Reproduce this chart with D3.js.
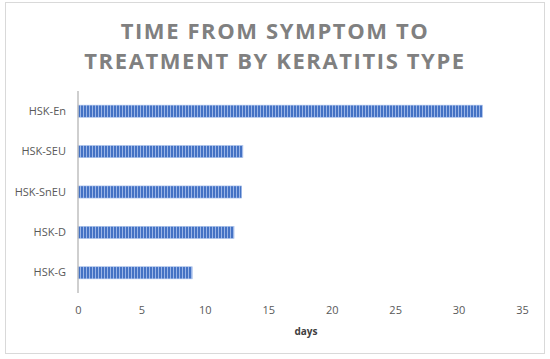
<!DOCTYPE html>
<html>
<head>
<meta charset="utf-8">
<script src="https://cdn.jsdelivr.net/npm/d3@7"></script>
<style>
  body { margin: 0; background: #fff; }
  text { font-family: "Open Sans", "Liberation Sans", sans-serif; }
</style>
</head>
<body>
<div class="vis-chart"></div>
<script>
const categories = ['HSK-En', 'HSK-SEU', 'HSK-SnEU', 'HSK-D', 'HSK-G'];
const days = [31.9, 13.0, 12.9, 12.3, 9.0];
const xTicks = [0, 5, 10, 15, 20, 25, 30, 35];
const titleLines = ['TIME FROM SYMPTOM TO', 'TREATMENT BY KERATITIS TYPE'];

const width = 550, height = 359;
const plot = { left: 78, right: 522, top: 91, bottom: 293 };

const svg = d3.select('.vis-chart').append('svg')
    .attr('width', width)
    .attr('height', height);

// frame
svg.append('rect')
    .attr('x', 5.5).attr('y', 2.5)
    .attr('width', 539).attr('height', 351)
    .attr('fill', '#fff')
    .attr('stroke', '#d9d9d9');

// striped fill like the excel pattern
const pat = svg.append('defs').append('pattern')
    .attr('id', 'stripes')
    .attr('patternUnits', 'userSpaceOnUse')
    .attr('width', 3).attr('height', 4);
pat.append('rect').attr('width', 3).attr('height', 4).attr('fill', '#9bb5e6');
pat.append('rect').attr('width', 2).attr('height', 4).attr('fill', '#4472c4');

svg.selectAll('.title')
    .data(titleLines)
    .enter().append('text')
    .attr('class', 'title')
    .attr('x', width / 2)
    .attr('y', (d, i) => 39 + i * 30)
    .attr('text-anchor', 'middle')
    .style('font-size', '22px')
    .style('font-weight', 'bold')
    .style('letter-spacing', '1.6px')
    .attr('fill', '#808080')
    .text(d => d);

const xScale = d3.scaleLinear()
    .domain([0, 35])
    .range([plot.left, plot.right]);

const yScale = d3.scaleBand()
    .domain(categories)
    .range([plot.top, plot.bottom])
    .paddingInner(0.7)
    .paddingOuter(0.35);

// bars
svg.selectAll('.bar')
    .data(categories)
    .enter().append('rect')
    .attr('class', 'bar')
    .attr('x', xScale(0))
    .attr('y', d => yScale(d))
    .attr('width', (d, i) => xScale(days[i]) - xScale(0))
    .attr('height', yScale.bandwidth())
    .attr('fill', 'url(#stripes)')
    .attr('stroke', '#a9c1ec')
    .attr('stroke-width', 0.6);

// vertical axis line + category labels
const yAxis = d3.axisLeft(yScale).tickSize(0).tickPadding(12);
const gy = svg.append('g')
    .attr('transform', 'translate(' + plot.left + ',0)')
    .call(yAxis);
gy.select('.domain').remove();
gy.selectAll('text')
    .style('font-size', '11px')
    .attr('fill', '#595959');

svg.append('line')
    .attr('x1', plot.left).attr('x2', plot.left)
    .attr('y1', plot.top).attr('y2', plot.bottom)
    .attr('stroke', '#bfbfbf')
    .attr('stroke-width', 1.5);

// x tick labels
const xAxis = d3.axisBottom(xScale).tickValues(xTicks).tickSize(0).tickPadding(13);
const gx = svg.append('g')
    .attr('transform', 'translate(0,' + plot.bottom + ')')
    .call(xAxis);
gx.select('.domain').remove();
gx.selectAll('text')
    .style('font-size', '11px')
    .attr('fill', '#595959');

svg.append('text')
    .attr('x', (plot.left + plot.right) / 2 + 6)
    .attr('y', 335)
    .attr('text-anchor', 'middle')
    .style('font-size', '10px')
    .style('font-weight', 'bold')
    .attr('fill', '#404040')
    .text('days');
</script>
</body>
</html>
